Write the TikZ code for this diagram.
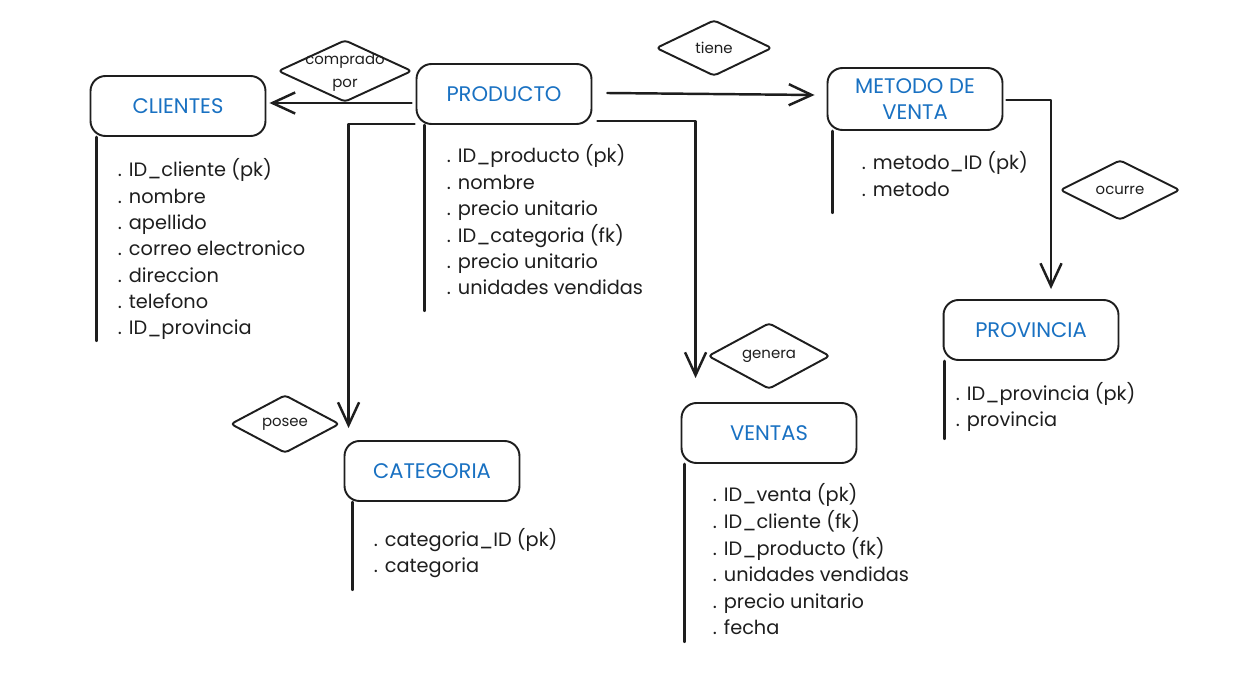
\documentclass[tikz,border=0pt]{standalone}
\usepackage{fontspec}
\setmainfont{Poppins}
\usetikzlibrary{shapes.geometric,arrows.meta,calc}
\definecolor{titleblue}{HTML}{1971C2}
\definecolor{ink}{HTML}{1E1E1E}

\begin{document}
\begin{tikzpicture}[
		x=0.02cm, y=-0.02cm,
		line width=1.1pt, line cap=round, line join=round, draw=ink,
		entity/.style={draw=ink, rounded corners=0.3cm, minimum width=3.5cm, minimum height=1.2cm,
			text=titleblue, font=\fontsize{12}{15}\selectfont, align=center},
		rel/.style={draw=ink, diamond, rounded corners=2pt, inner sep=0pt, text=ink,
			font=\fontsize{8.5}{13}\selectfont, align=center},
		reltext/.style={inner sep=0pt, text=ink, font=\fontsize{8.5}{13}\selectfont, align=center},
		attr/.style={anchor=west, inner sep=0pt, text height=8pt, text depth=2.5pt,
			text=ink, font=\fontsize{11}{13}\selectfont},
		conn/.style={draw=ink, line width=1.4pt, -{Straight Barb[length=13pt,width=12pt]}},
		bar/.style={draw=ink, line width=1.4pt}
	]

		\fill[white] (0,0) rectangle (1256,699);
		\useasboundingbox (0,0) rectangle (1256,699);

		%entities
		\node[entity] (cli) at (178,106) {CLIENTES};
		\node[entity] (prod) at (504,94) {PRODUCTO};
		\node[entity, minimum height=1.24cm] (met) at (915,99) {METODO DE\\VENTA};
		\node[entity] (prov) at (1031,330) {PROVINCIA};
		\node[entity] (cat) at (432,471) {CATEGORIA};
		\node[entity] (ven) at (769,433) {VENTAS};

		%relations
		\node[rel, minimum width=2.68cm, minimum height=1.24cm] (compra) at (345,71) {};
		\node[reltext] (compra-txt) at (345,72) {comprado\\por};
		\node[rel, minimum width=2.32cm, minimum height=1.12cm] (tiene) at (714,48) {tiene};
		\node[rel, minimum width=2.4cm, minimum height=1.2cm] (ocurre) at (1120,190) {ocurre};
		\node[rel, minimum width=2.44cm, minimum height=1.04cm] (genera) at (769,356) {genera};
		\node[rel, minimum width=2.18cm, minimum height=1.14cm] (posee) at (285,424) {posee};

		%connectors
		\draw[conn] ($(prod.west |- cli.east)+(-4,-3)$) -- ($(cli.east)+(3,-3)$);
		\draw[conn] ($(prod.east)+(15,-1)$) -- ($(met.west)+(-12,-4)$);
		\draw[conn] ($(prod.south east)+(5,-4)$) -| ($(ven.north west)+(15,-24)$);
		\draw[conn] ($(prod.south west)+(-1,-1)$) -| ($(cat.north west)+(5,-12)$);
		\draw[conn] ($(met.east)+(3,1)$) -| ($(prov.north)+(20,-10)$);

		%attributes
		\foreach \t [count=\i] in {ID\_cliente (pk), nombre, apellido, correo electronico, direccion, telefono, ID\_provincia}
			\node[attr] (cli\i) at (117, {172+26.3*(\i-1)}) {. \t};
		\foreach \t [count=\i] in {ID\_producto (pk), nombre, precio unitario, ID\_categoria (fk), precio unitario, unidades vendidas}
			\node[attr] (prod\i) at (446, {158+26.4*(\i-1)}) {. \t};
		\foreach \t [count=\i] in {metodo\_ID (pk), metodo}
			\node[attr] (met\i) at (861, {165+27*(\i-1)}) {. \t};
		\foreach \t [count=\i] in {ID\_provincia (pk), provincia}
			\node[attr] (prov\i) at (955, {396+26*(\i-1)}) {. \t};
		\foreach \t [count=\i] in {categoria\_ID (pk), categoria}
			\node[attr] (cat\i) at (373, {542+26*(\i-1)}) {. \t};
		\foreach \t [count=\i] in {ID\_venta (pk), ID\_cliente (fk), ID\_producto (fk), unidades vendidas, precio unitario, fecha}
			\node[attr] (ven\i) at (712, {497+26.6*(\i-1)}) {. \t};

		%attribute bars
		\draw[bar] ($(cli.south west)+(7,0)$) -- ++(0,204);
		\draw[bar] ($(prod.south west)+(9,0)$) -- ++(0,186);
		\draw[bar] ($(met.south west)+(6,0)$) -- ++(0,82);
		\draw[bar] ($(prov.south west)+(2,0)$) -- ++(0,78);
		\draw[bar] ($(cat.south west)+(9,0)$) -- ++(0,88);
		\draw[bar] ($(ven.south west)+(4,0)$) -- ++(0,178);
	\end{tikzpicture}
\end{document}
